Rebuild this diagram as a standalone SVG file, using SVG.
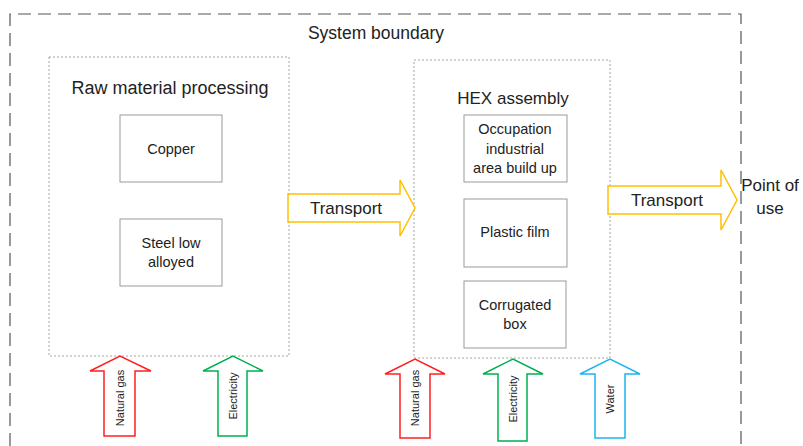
<svg xmlns="http://www.w3.org/2000/svg" width="803" height="446" viewBox="0 0 803 446">
  <style>
    text { font-family: "Liberation Sans", Arial, sans-serif; fill: #222; text-anchor: middle; }
    .boundary { fill: none; stroke: #555; stroke-width: 1.2; stroke-dasharray: 13 7; }
    .stage { fill: #fff; stroke: #a6a6a6; stroke-width: 1; stroke-dasharray: 2 2; }
    .item { fill: #fff; stroke: #999; stroke-width: 1; }
    .title { font-size: 18px; }
    .label { font-size: 14.5px; }
    .flowtext { font-size: 17px; }
    .vtext { font-size: 11px; }
    .flow { fill: #fff; stroke-width: 1.5; stroke-linejoin: miter; }
    .transport { stroke: #FFC000; }
    .gas { stroke: #FF2020; }
    .power { stroke: #00B050; }
    .water { stroke: #1EB4F0; }
  </style>

  <!-- system boundary (open at the bottom) -->
  <g id="system-boundary">
    <path class="boundary" d="M10,446 V14 H741 V446"/>
    <text x="376" y="39" style="font-size:17.5px">System boundary</text>
  </g>

  <!-- stage 1: raw material processing -->
  <g id="raw-material-processing">
    <rect class="stage" x="49" y="57" width="240" height="299"/>
    <text class="title" x="170" y="94">Raw material processing</text>
  </g>
  <g id="copper">
    <rect class="item" x="120" y="115" width="102" height="67"/>
    <text class="label" x="171" y="154">Copper</text>
  </g>
  <g id="steel-low-alloyed">
    <rect class="item" x="120" y="219" width="102" height="67"/>
    <text class="label" x="171" y="248">Steel low</text>
    <text class="label" x="171" y="267">alloyed</text>
  </g>

  <!-- stage 2: HEX assembly -->
  <g id="hex-assembly">
    <rect class="stage" x="414" y="60" width="196" height="298"/>
    <text x="513" y="104" style="font-size:17px">HEX assembly</text>
  </g>
  <g id="occupation-industrial-area">
    <rect class="item" x="464" y="115" width="103" height="67"/>
    <text class="label" x="515" y="134">Occupation</text>
    <text class="label" x="515" y="154">industrial</text>
    <text class="label" x="515" y="173">area build up</text>
  </g>
  <g id="plastic-film">
    <rect class="item" x="464" y="199" width="103" height="68"/>
    <text class="label" x="515" y="237">Plastic film</text>
  </g>
  <g id="corrugated-box">
    <rect class="item" x="464" y="281" width="102" height="67"/>
    <text class="label" x="515" y="310">Corrugated</text>
    <text class="label" x="515" y="329">box</text>
  </g>

  <!-- destination -->
  <g id="point-of-use">
    <text class="flowtext" x="770" y="191">Point of</text>
    <text class="flowtext" x="770" y="214">use</text>
  </g>

  <!-- flows: transport between stages and energy / water inputs -->
  <g id="connectors">
    <g id="transport-1">
      <path class="flow transport" d="M288,194 H400 V180 L415,208 L400,236 V222 H288 Z"/>
      <text class="flowtext" x="346" y="214">Transport</text>
    </g>
    <g id="transport-2">
      <path class="flow transport" d="M608,186 H721 V170 L737,200 L721,230 V214 H608 Z"/>
      <text class="flowtext" x="667" y="206">Transport</text>
    </g>

    <g id="natural-gas-1">
      <path class="flow gas" d="M104,436 V371 H90 L120,356 L151,371 H135 V436 Z"/>
      <text class="vtext" transform="translate(124,398) rotate(-90)">Natural gas</text>
    </g>
    <g id="electricity-1">
      <path class="flow power" d="M218,436 V371 H203 L233,356 L263,371 H247 V436 Z"/>
      <text class="vtext" transform="translate(237,396) rotate(-90)">Electricity</text>
    </g>
    <g id="natural-gas-2">
      <path class="flow gas" d="M400,438 V374 H385 L415,359 L445,374 H430 V438 Z"/>
      <text class="vtext" transform="translate(419,398) rotate(-90)">Natural gas</text>
    </g>
    <g id="electricity-2">
      <path class="flow power" d="M498,441 V374 H483 L513,359 L543,374 H527 V441 Z"/>
      <text class="vtext" transform="translate(517,399) rotate(-90)">Electricity</text>
    </g>
    <g id="water">
      <path class="flow water" d="M595,438 V374 H580 L610,359 L640,374 H625 V438 Z"/>
      <text class="vtext" transform="translate(614,399) rotate(-90)">Water</text>
    </g>
  </g>
</svg>
